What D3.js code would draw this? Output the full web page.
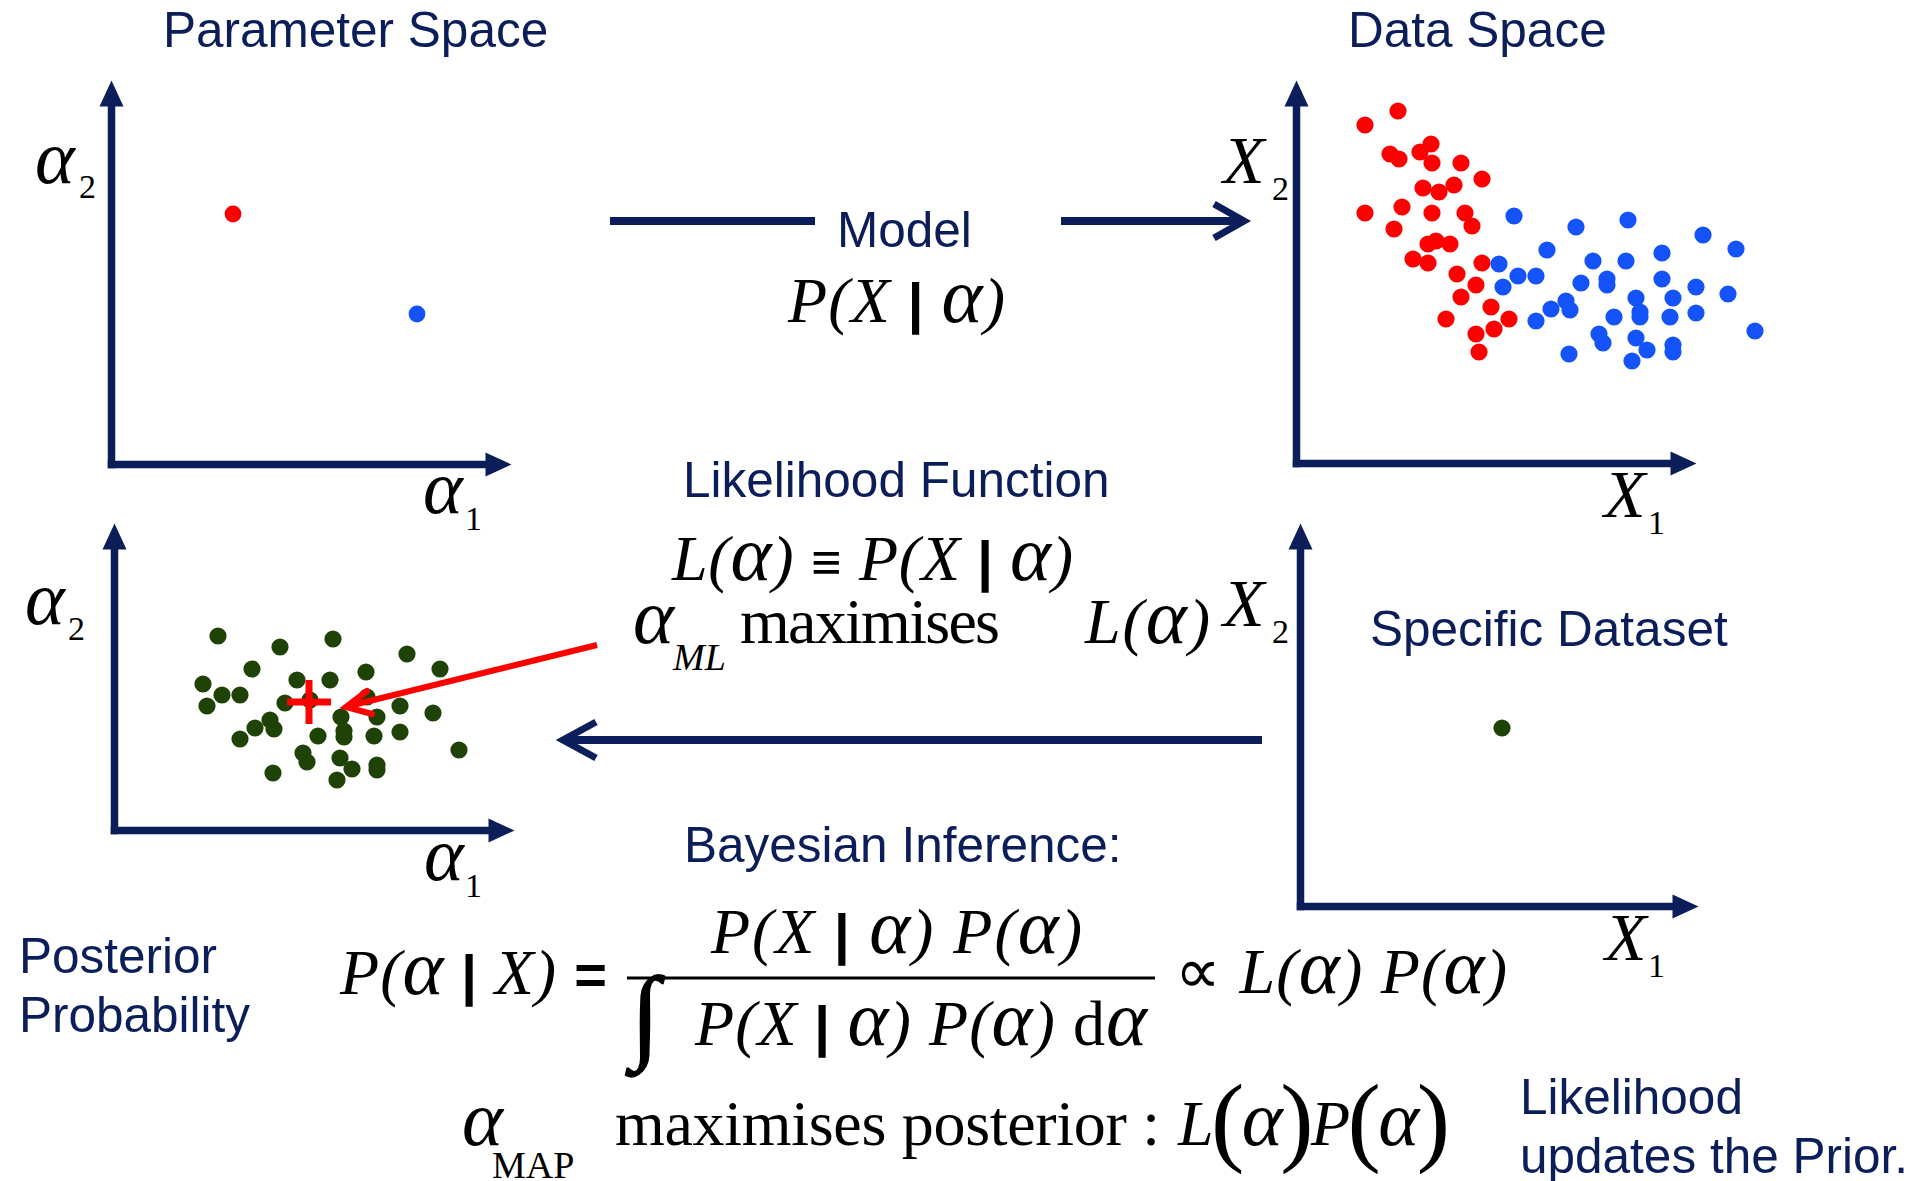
<!DOCTYPE html>
<html>
<head>
<meta charset="utf-8">
<title>Parameter space, data space and inference</title>
<script src="https://cdn.jsdelivr.net/npm/d3@7"></script>
<style>
  html, body { margin: 0; background: #fff; }
  text { white-space: pre; }
</style>
</head>
<body>
<svg id="chart"></svg>
<script>
'use strict'

// Data (units: 10 px of the original drawing per unit).
const paramPoints = [
  { a1: 12.2, a2: 25.0, cls: 'red' },
  { a1: 30.6, a2: 15.0, cls: 'blue' },
]

const redCluster = [
  [6.9, 33.8], [10.2, 35.2], [9.4, 30.9], [10.3, 30.4], [12.4, 31.1],
  [13.5, 31.9], [13.6, 30.0], [16.5, 30.0], [18.6, 28.4], [12.7, 27.5],
  [14.3, 27.1], [15.8, 27.8], [6.9, 25.0], [10.6, 25.6], [13.6, 25.0],
  [16.9, 25.0], [17.6, 23.7], [9.8, 23.4], [13.2, 21.9], [14.0, 22.2],
  [15.4, 21.9], [11.7, 20.4], [13.2, 20.0], [18.6, 20.0], [16.1, 18.9],
  [18.0, 17.8], [16.5, 16.6], [19.5, 15.6], [15.0, 14.4], [21.3, 14.4],
  [18.0, 12.9], [19.8, 13.4], [18.3, 11.1],
]

const blueCluster = [
  [21.8, 24.7], [28.0, 23.6], [33.2, 24.3], [40.7, 22.8], [44.0, 21.4],
  [25.1, 21.3], [29.7, 20.2], [33.0, 20.2], [36.6, 21.0], [20.3, 19.9],
  [22.2, 18.7], [24.0, 18.7], [20.7, 17.6], [28.5, 18.0], [31.1, 18.4],
  [31.1, 17.8], [36.6, 18.4], [40.0, 17.6], [43.2, 16.9], [34.0, 16.5],
  [37.7, 16.5], [27.0, 16.2], [25.5, 15.4], [27.4, 15.3], [24.0, 14.2],
  [31.8, 14.6], [34.4, 15.1], [34.4, 14.6], [37.4, 14.6], [40.0, 15.0],
  [45.9, 13.2], [30.3, 12.9], [30.7, 12.0], [34.0, 12.5], [35.1, 11.3],
  [37.7, 11.8], [37.7, 11.1], [27.3, 10.9], [33.6, 10.2],
]

const posteriorSamples = [
  [10.4, 19.4], [16.6, 18.3], [21.9, 19.1], [29.3, 17.6], [13.8, 16.1],
  [32.6, 16.1], [8.9, 14.6], [18.3, 15.0], [21.6, 15.0], [25.2, 15.8],
  [10.8, 13.5], [12.6, 13.5], [9.3, 12.4], [17.1, 12.7], [19.6, 13.0],
  [25.3, 13.3], [28.6, 12.4], [22.7, 11.3], [26.3, 11.3], [31.9, 11.7],
  [15.6, 11.0], [14.1, 10.2], [16.0, 10.1], [12.6, 9.1], [20.4, 9.4],
  [23.0, 9.9], [23.0, 9.3], [26.0, 9.4], [28.6, 9.8], [34.5, 8.0],
  [18.9, 7.7], [19.3, 6.8], [22.6, 7.2], [23.8, 6.1], [26.3, 6.5],
  [26.3, 6.0], [15.9, 5.7], [22.3, 5.0],
]

const mlEstimate = [19.5, 12.8]
const specificDataset = [[20.2, 17.8]]

const panelTitles = ['Parameter Space', 'Data Space', 'Specific Dataset']
const flowLabels = ['Model', 'Likelihood Function', 'Bayesian Inference:']
const sideNotes = [['Posterior', 'Probability'], ['Likelihood', 'updates the Prior.']]
const paramSymbol = 'α', dataSymbol = 'X', axisSubscripts = ['1', '2']

const SANS = "'Liberation Sans', Arial, Helvetica, sans-serif",
  SERIF = "'Liberation Serif', 'Times New Roman', Times, serif",
  NAVY = '#0b1e5a',
  colours = { red: '#ff0000', blue: '#1452fa', green: '#1f4206' }

const width = 1930, height = 1181
const svg = d3.select('#chart').attr('width', width).attr('height', height)

// Arrowhead for the axes.
svg.append('defs')
  .append('marker')
  .attr('id', 'head')
  .attr('markerUnits', 'userSpaceOnUse')
  .attr('viewBox', '-4 -13 30 26')
  .attr('markerWidth', 30)
  .attr('markerHeight', 26)
  .attr('refX', 0)
  .attr('refY', 0)
  .attr('orient', 'auto')
  .append('path')
  .attr('d', 'M-3,-12L23,0L-3,12Z')
  .attr('fill', NAVY)

// Four panels: origin and arrow tips.
const panels = {
  param: { ox: 111, oy: 464, xTip: 511, yTip: 80 },
  data: { ox: 1296, oy: 463, xTip: 1696, yTip: 80 },
  post: { ox: 114, oy: 830, xTip: 514, yTip: 523 },
  set: { ox: 1300, oy: 906, xTip: 1698, yTip: 523 },
}

Object.values(panels).forEach(p => {
  p.x = d3.scaleLinear().domain([0, 40]).range([p.ox, p.ox + 400])
  p.y = d3.scaleLinear().domain([0, 40]).range([p.oy, p.oy - 400])

  const axisX = d3.scaleLinear().range([p.ox, p.xTip - 23]),
    axisY = d3.scaleLinear().range([p.oy, p.yTip + 23])

  const gx = svg.append('g')
    .attr('transform', `translate(0,${p.oy})`)
    .attr('color', NAVY)
    .call(d3.axisBottom(axisX).tickValues([]).tickSizeOuter(0))
  const gy = svg.append('g')
    .attr('transform', `translate(${p.ox},0)`)
    .attr('color', NAVY)
    .call(d3.axisLeft(axisY).tickValues([]).tickSizeOuter(0))

  ;[gx, gy].forEach(g => g.select('.domain')
    .attr('stroke-width', 7.5)
    .attr('stroke-linecap', 'square')
    .attr('marker-end', 'url(#head)'))
})

// Points.
const dot = (p, data, fill) => svg.append('g')
  .selectAll('circle')
  .data(data)
  .enter()
  .append('circle')
  .attr('cx', d => p.x(d[0]))
  .attr('cy', d => p.y(d[1]))
  .attr('r', 8.6)
  .attr('fill', fill)

svg.append('g')
  .selectAll('circle')
  .data(paramPoints)
  .enter()
  .append('circle')
  .attr('cx', d => panels.param.x(d.a1))
  .attr('cy', d => panels.param.y(d.a2))
  .attr('r', 8.4)
  .attr('fill', d => colours[d.cls])

dot(panels.data, redCluster, colours.red)
dot(panels.data, blueCluster, colours.blue)
dot(panels.post, posteriorSamples, colours.green)
dot(panels.set, specificDataset, colours.green)

// ML estimate cross.
const cx = panels.post.x(mlEstimate[0]), cy = panels.post.y(mlEstimate[1])
svg.append('path')
  .attr('d', `M${cx - 22},${cy}H${cx + 22}M${cx},${cy - 22}V${cy + 22}`)
  .attr('stroke', colours.red)
  .attr('stroke-width', 7)

// Flow arrows.
const stroke = (d, colour, w) => svg.append('path')
  .attr('d', d)
  .attr('fill', 'none')
  .attr('stroke', colour)
  .attr('stroke-width', w)
  .attr('stroke-linejoin', 'miter')

stroke('M610,221H815', NAVY, 8)
stroke('M1061,221H1240', NAVY, 8)
stroke('M1214,204L1244,221L1214,238', NAVY, 7)
stroke('M1262,740H566', NAVY, 8)
stroke('M596,722L563,740L596,758', NAVY, 7)
stroke('M597,645L349,706', colours.red, 6)
stroke('M367,691L346,707L372,714', colours.red, 6).attr('stroke-linecap', 'round')

// Blue captions.
const caption = (x, y, str) => svg.append('text')
  .attr('x', x)
  .attr('y', y)
  .attr('font-family', SANS)
  .attr('font-size', 49.5)
  .attr('fill', NAVY)
  .text(str)

caption(163, 47, panelTitles[0])
caption(1348, 47, panelTitles[1])
caption(1370, 646, panelTitles[2])
caption(837, 247, flowLabels[0])
caption(683, 497, flowLabels[1])
caption(684, 862, flowLabels[2])
caption(19, 973, sideNotes[0][0])
caption(19, 1032, sideNotes[0][1])
caption(1520, 1114, sideNotes[1][0])
caption(1520, 1173, sideNotes[1][1])

// Maths: Greek alpha drawn a little larger, as in the original typesetting.
function formula(x, y, parts, len) {
  const t = svg.append('text').attr('x', x).attr('y', y).attr('fill', '#000')
  parts.forEach(([str, kind, size = 64, dy]) => {
    str.split(/(α)/).filter(s => s.length).forEach((s, i) => {
      t.append('tspan')
        .attr('font-family', kind === 's' ? SANS : SERIF)
        .attr('font-style', kind === 'i' ? 'italic' : 'normal')
        .attr('font-weight', kind === 's' ? 'bold' : 'normal')
        .attr('font-size', s === 'α' ? size * 1.22 : size)
        .attr('dy', i === 0 && dy ? dy : null)
        .text(s)
    })
  })
  if (len) t.attr('textLength', len).attr('lengthAdjust', 'spacing')
  return t
}

// Axis labels.
const axisLabel = (x, y, sym, sub, sx, sy) => {
  formula(x, y, [[sym, 'i', sym === dataSymbol ? 68 : 62]])
  formula(sx, sy, [[sub, 'r', 34]])
}
axisLabel(35, 183, paramSymbol, axisSubscripts[1], 79, 198)
axisLabel(423, 513, paramSymbol, axisSubscripts[0], 465, 530)
axisLabel(25, 624, paramSymbol, axisSubscripts[1], 68, 640)
axisLabel(424, 880, paramSymbol, axisSubscripts[0], 465, 897)
axisLabel(1223, 183, dataSymbol, axisSubscripts[1], 1272, 200)
axisLabel(1604, 517, dataSymbol, axisSubscripts[0], 1648, 534)
axisLabel(1223, 626, dataSymbol, axisSubscripts[1], 1272, 643)
axisLabel(1605, 960, dataSymbol, axisSubscripts[0], 1648, 977)

formula(788, 322, [['P(X', 'i'], [' | ', 's', 56], ['α)', 'i']], 217)
formula(672, 580, [['L(α) ', 'i'], ['≡', 's', 52], [' P(X', 'i'], [' | ', 's', 56], ['α)', 'i']], 401)
formula(633, 643, [['α', 'i']])
formula(673, 670, [['ML', 'i', 38]])
formula(740, 643, [['maximises', 'r']], 260)
formula(1085, 643, [['L(α)', 'i']], 125)

formula(340, 994, [['P(α', 'i'], [' | ', 's', 56], ['X) ', 'i'], ['=', 's', 56]], 267)
formula(711, 953, [['P(X', 'i'], [' | ', 's', 56], ['α) P(α)', 'i']], 371)
svg.append('path').attr('d', 'M627,978H1155').attr('stroke', '#000').attr('stroke-width', 3)
formula(631, 1049, [['∫', 'r', 104]]).attr('stroke', '#000').attr('stroke-width', 1.5)
formula(695, 1045, [['P(X', 'i'], [' | ', 's', 56], ['α) P(α) ', 'i'], ['d', 'r'], ['α', 'i']], 452)
formula(1175, 993, [['∝ ', 'r'], ['L(α) P(α)', 'i']], 332)

formula(462, 1145, [['α', 'i']])
formula(492, 1178, [['MAP', 'r', 38]])
formula(615, 1145, [['maximises posterior :', 'r']], 545)
formula(1178, 1145, [
  ['L', 'i'], ['(', 'r', 100, 8], ['α', 'i', 64, -8], [')', 'r', 100, 8],
  ['P', 'i', 64, -8], ['(', 'r', 100, 8], ['α', 'i', 64, -8], [')', 'r', 100, 8],
], 272)
</script>
</body>
</html>
